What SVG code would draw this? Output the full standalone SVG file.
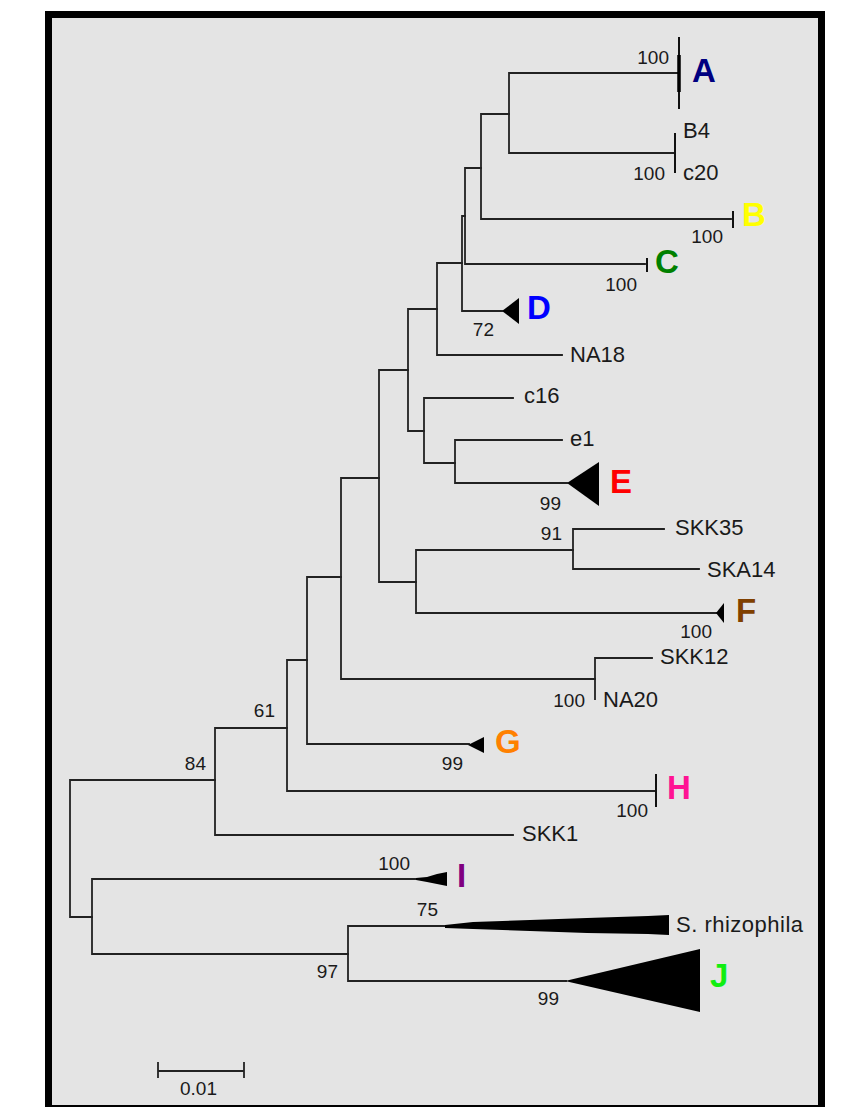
<svg xmlns="http://www.w3.org/2000/svg" width="843" height="1107" viewBox="0 0 843 1107">
<style>
.br{stroke:#222;stroke-width:1.8;fill:none;stroke-linecap:square}
.bar{stroke:#111;stroke-width:2;fill:none}
.tx{font-family:"Liberation Sans",Arial,sans-serif;font-size:22px;fill:#1a1a1a}
.bs{font-family:"Liberation Sans",Arial,sans-serif;font-size:19px;fill:#1a1a1a;text-anchor:end}
.cl{font-family:"Liberation Sans",Arial,sans-serif;font-size:33px;font-weight:bold}
.tri{fill:#000}
</style>
<rect x="0" y="0" width="843" height="1107" fill="#ffffff"/>
<rect id="frame" x="48.5" y="14.5" width="773" height="1094" fill="#e4e4e4" stroke="#000" stroke-width="7"/>
<g id="connectors" class="br">
<path d="M70 780V917M70 780H215M70 917H92"/>
<path d="M215 728V835M215 728H287M215 835H513"/>
<path d="M287 660V791M287 660H307M287 791H656"/>
<path d="M307 577V744M307 577H341M307 744H469"/>
<path d="M341 478V679M341 478H379M341 679H595"/>
<path d="M379 370V582M379 370H408M379 582H416"/>
<path d="M408 309V431M408 309H437M408 431H424"/>
<path d="M437 263V355M437 263H462M437 355H562"/>
<path d="M462 216V311M462 216H465M462 311H502"/>
<path d="M465 168V264M465 168H481M465 264H645"/>
<path d="M481 114V219M481 114H509M481 219H731"/>
<path d="M509 73V153M509 73H679M509 153H675"/>
<path d="M424 398V463M424 398H513M424 463H455"/>
<path d="M455 440V483M455 440H562M455 483H567"/>
<path d="M416 550V613M416 550H573M416 613H717"/>
<path d="M573 529V569M573 529H664M573 569H699"/>
<path d="M595 658V699M595 658H652"/>
<path d="M92 879V954M92 879H417M92 954H348"/>
<path d="M348 926V981M348 926H446M348 981H566"/>
</g>
<g id="cladeA">
<path class="bar" d="M679 37V109"/>
<path d="M679 55V92" stroke="#000" stroke-width="3.5"/>
<text class="cl" x="692" y="82" fill="#000080">A</text>
</g>
<g id="B4c20">
<path class="bar" d="M675 133V173"/>
<text class="tx" x="683" y="138">B4</text>
<text class="tx" x="683" y="180">c20</text>
</g>
<g id="cladeB">
<path class="bar" d="M733 211V228"/>
<text class="cl" x="742" y="226" fill="#ffff00">B</text>
</g>
<g id="cladeC">
<path class="bar" d="M647 258V272"/>
<text class="cl" x="655" y="273" fill="#008000">C</text>
</g>
<g id="cladeD">
<polygon class="tri" points="502,311 519,298 519,324"/>
<text class="cl" x="527" y="319" fill="#0000ff">D</text>
</g>
<g id="NA18"><text class="tx" x="570" y="362">NA18</text></g>
<g id="c16"><text class="tx" x="524" y="403">c16</text></g>
<g id="e1"><text class="tx" x="570" y="446">e1</text></g>
<g id="cladeE">
<polygon class="tri" points="567,483 599,462 599,506"/>
<text class="cl" x="610" y="493" fill="#ff0000">E</text>
</g>
<g id="SKK35"><text class="tx" x="675" y="535">SKK35</text></g>
<g id="SKA14"><text class="tx" x="707" y="577">SKA14</text></g>
<g id="cladeF">
<polygon class="tri" points="716,613 724,603 724,623"/>
<text class="cl" x="736" y="622" fill="#804000">F</text>
</g>
<g id="SKK12"><text class="tx" x="660" y="664">SKK12</text></g>
<g id="NA20"><text class="tx" x="603" y="707">NA20</text></g>
<g id="cladeG">
<polygon class="tri" points="468,745 484,737 484,753"/>
<text class="cl" x="495" y="753" fill="#ff8000">G</text>
</g>
<g id="cladeH">
<path class="bar" d="M656 774V807"/>
<text class="cl" x="667" y="799" fill="#ff1493">H</text>
</g>
<g id="SKK1"><text class="tx" x="522" y="841">SKK1</text></g>
<g id="cladeI">
<polygon class="tri" points="416,878 427,877 437,874 447,872 447,886 437,884 427,882 416,880"/>
<text class="cl" x="457" y="887" fill="#800080">I</text>
</g>
<g id="Srhizophila">
<polygon class="tri" points="445,925 473,922 530,920 587,918 648,916 669,915 669,935 648,934 587,933 530,931 473,929 445,928"/>
<text class="tx" x="676" y="932" textLength="127" lengthAdjust="spacing">S. rhizophila</text>
</g>
<g id="cladeJ">
<polygon class="tri" points="565,981 700,949 700,1012"/>
<text class="cl" x="710" y="987" fill="#11ee11">J</text>
</g>
<g id="support">
<text class="bs" x="669" y="64">100</text>
<text class="bs" x="665" y="180">100</text>
<text class="bs" x="723" y="243">100</text>
<text class="bs" x="637" y="291">100</text>
<text class="bs" x="494" y="336">72</text>
<text class="bs" x="561" y="510">99</text>
<text class="bs" x="562" y="540">91</text>
<text class="bs" x="712" y="638">100</text>
<text class="bs" x="585" y="707">100</text>
<text class="bs" x="275" y="717">61</text>
<text class="bs" x="463" y="770">99</text>
<text class="bs" x="206" y="770">84</text>
<text class="bs" x="648" y="817">100</text>
<text class="bs" x="410" y="870">100</text>
<text class="bs" x="438" y="916">75</text>
<text class="bs" x="338" y="978">97</text>
<text class="bs" x="559" y="1005">99</text>
</g>
<g id="scalebar">
<path class="br" d="M158 1071H244M158 1063V1077M244 1063V1077"/>
<text class="bs" x="217" y="1095">0.01</text>
</g>
</svg>
